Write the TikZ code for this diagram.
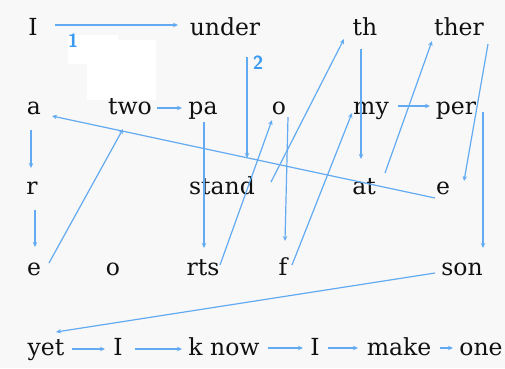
\documentclass[tikz,border=0pt]{standalone}
\usepackage{fontspec}
\setmainfont{DejaVu Serif}
\usetikzlibrary{arrows.meta}
\definecolor{bg}{HTML}{F8F8F8}
\definecolor{ln}{HTML}{62ABF2}
\definecolor{lab}{HTML}{3C9BF0}
\definecolor{txt}{HTML}{111111}
\begin{document}
\begin{tikzpicture}[x=1pt,y=-1pt,
  word/.style={font=\fontsize{23.5}{25}\selectfont, inner sep=0pt, anchor=base, text=txt},
  conn/.style={draw=ln, line width=1.2pt, -{Stealth[length=5pt,width=4.5pt]}},
  lbl/.style={font=\sffamily\bfseries\fontsize{19}{19}\selectfont, text=lab, inner sep=0pt}]
\fill[bg] (0,0) rectangle (505,368);
\useasboundingbox (0,0) rectangle (505,368);
\fill[white] (68,35) rectangle (118,64);
\fill[white] (87,40) rectangle (156,100);
% row 1
\node[word] (I1) at (33,35) {I};
\node[word] (under) at (225,35) {under};
\node[word] (th) at (365,35) {th};
\node[word] (ther) at (459,35) {ther};
% row 2
\node[word] (a) at (34,114) {a};
\node[word] (two) at (130,114) {two};
\node[word] (pa) at (203,114) {pa};
\node[word] (o2) at (279,114) {o};
\node[word] (my) at (371,114) {my};
\node[word] (per) at (456,114) {per};
% row 3
\node[word] (r) at (32,194) {r};
\node[word] (stand) at (222,194) {stand};
\node[word] (at) at (364,194) {at};
\node[word] (e3) at (443,194) {e};
% row 4
\node[word] (e4) at (34,275) {e};
\node[word] (o4) at (113,275) {o};
\node[word] (rts) at (203,275) {rts};
\node[word] (f) at (283,275) {f};
\node[word] (son) at (462,275) {son};
% row 5
\node[word] (yet) at (46,355) {yet};
\node[word] (I5) at (118,355) {I};
\node[word] (know) at (224,355) {k now};
\node[word] (I6) at (315,355) {I};
\node[word] (make) at (399,355) {make};
\node[word] (one) at (481,355) {one};
% labels
\node[lbl] (l1) at (73,41) {1};
\node[lbl] (l2) at (258,63) {2};
\coordinate (s2) at (247,57);
% connectors
\draw[conn] ([shift={(22,-10)}]I1.base) -- ([shift={(-47,-10)}]under.base);
\draw[conn] (s2) -- ([shift={(25,-36)}]stand.base);
\draw[conn] ([shift={(-8,4)}]e3.base) -- ([shift={(18,2)}]a.base);
\draw[conn] ([shift={(-3,16)}]a.base) -- ([shift={(-1,-26)}]r.base);
\draw[conn] ([shift={(3,16)}]r.base) -- ([shift={(1,-28)}]e4.base);
\draw[conn] ([shift={(15,-12)}]e4.base) -- ([shift={(-7,15)}]two.base);
\draw[conn] ([shift={(27,-6)}]two.base) -- ([shift={(-21,-6)}]pa.base);
\draw[conn] ([shift={(1,8)}]pa.base) -- ([shift={(1,-27)}]rts.base);
\draw[conn] ([shift={(17,-10)}]rts.base) -- ([shift={(-7,6)}]o2.base);
\draw[conn] ([shift={(9,3)}]o2.base) -- ([shift={(2,-34)}]f.base);
\draw[conn] ([shift={(49,-12)}]stand.base) -- ([shift={(-21,4)}]th.base);
\draw[conn] ([shift={(-4,14)}]th.base) -- ([shift={(-3,-35)}]at.base);
\draw[conn] ([shift={(9,-10)}]f.base) -- ([shift={(-19,-1)}]my.base);
\draw[conn] ([shift={(27,-8)}]my.base) -- ([shift={(-26,-8)}]per.base);
\draw[conn] ([shift={(21,-21)}]at.base) -- ([shift={(-27,6)}]ther.base);
\draw[conn] ([shift={(29,9)}]ther.base) -- ([shift={(21,-13)}]e3.base);
\draw[conn] ([shift={(27,-2)}]per.base) -- ([shift={(21,-27)}]son.base);
\draw[conn] ([shift={(-27,-2)}]son.base) -- ([shift={(10,-23)}]yet.base);
\draw[conn] ([shift={(26,-6)}]yet.base) -- ([shift={(-13,-6)}]I5.base);
\draw[conn] ([shift={(17,-6)}]I5.base) -- ([shift={(-42,-6)}]know.base);
\draw[conn] ([shift={(44,-7)}]know.base) -- ([shift={(-12,-7)}]I6.base);
\draw[conn] ([shift={(13,-7)}]I6.base) -- ([shift={(-41,-7)}]make.base);
\draw[conn] ([shift={(41,-7)}]make.base) -- ([shift={(-28,-7)}]one.base);
\end{tikzpicture}
\end{document}
